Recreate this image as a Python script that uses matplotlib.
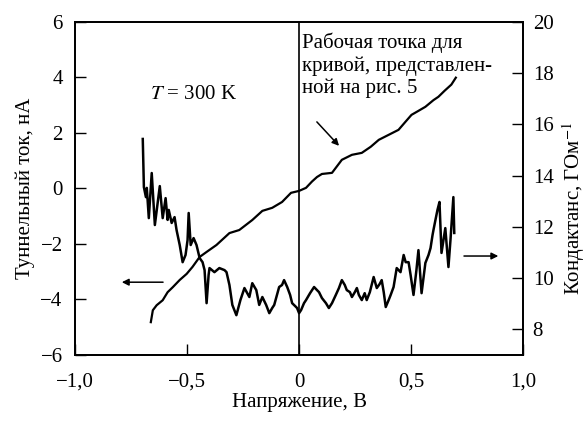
import numpy as np
import matplotlib
matplotlib.use('Agg')
import matplotlib.pyplot as plt
from matplotlib.ticker import FuncFormatter

plt.rcParams['font.family'] = ['Liberation Serif', 'DejaVu Serif']
plt.rcParams['mathtext.fontset'] = 'stix'
plt.rcParams['font.size'] = 15

# tunnel current (left axis), nA
v_i = [-0.662, -0.653, -0.636, -0.609, -0.587, -0.564, -0.533, -0.502, -0.476,
       -0.444, -0.413, -0.369, -0.311, -0.267, -0.209, -0.164, -0.120, -0.076,
       -0.036, 0.000, 0.031, 0.058, 0.080, 0.102, 0.147, 0.191, 0.236, 0.280,
       0.320, 0.356, 0.400, 0.444, 0.475, 0.502, 0.530, 0.564, 0.600, 0.622,
       0.650, 0.680, 0.700]
current = [-4.82, -4.39, -4.21, -4.03, -3.74, -3.56, -3.30, -3.08, -2.83,
           -2.47, -2.29, -2.04, -1.61, -1.50, -1.14, -0.81, -0.70, -0.49,
           -0.16, -0.09, 0.02, 0.25, 0.41, 0.52, 0.56, 1.03, 1.21, 1.28,
           1.50, 1.75, 1.93, 2.11, 2.40, 2.65, 2.78, 2.94, 3.18, 3.30,
           3.52, 3.74, 3.99]

# conductance (right axis), GOhm^-1
v_g = [-0.698, -0.693, -0.684, -0.680, -0.671, -0.658, -0.644, -0.622, -0.609, -0.596,
       -0.587, -0.582, -0.569, -0.556, -0.547, -0.533, -0.520, -0.507, -0.498, -0.493,
       -0.484, -0.471, -0.458, -0.444, -0.431, -0.422, -0.413, -0.404, -0.400, -0.378,
       -0.356, -0.333, -0.324, -0.311, -0.298, -0.280, -0.262, -0.244, -0.222, -0.209,
       -0.191, -0.178, -0.164, -0.147, -0.133, -0.120, -0.111, -0.089, -0.076, -0.067,
       -0.053, -0.040, -0.031, -0.018, -0.009, 0.000, 0.009, 0.022, 0.031, 0.049,
       0.067, 0.080, 0.089, 0.102, 0.120, 0.133, 0.147, 0.164, 0.178, 0.191,
       0.204, 0.213, 0.227, 0.236, 0.249, 0.258, 0.267, 0.280, 0.293, 0.302,
       0.316, 0.333, 0.347, 0.360, 0.369, 0.378, 0.387, 0.400, 0.409, 0.422,
       0.436, 0.453, 0.467, 0.476, 0.489, 0.498, 0.511, 0.524, 0.533, 0.547,
       0.564, 0.578, 0.587, 0.596, 0.600, 0.609, 0.618, 0.627, 0.636, 0.653,
       0.667, 0.676, 0.689, 0.693]
conductance = [15.43, 13.55, 13.16, 13.52, 12.34, 14.10, 12.07, 13.59, 12.34, 13.12,
               12.27, 12.66, 12.15, 12.38, 11.87, 11.29, 10.62, 10.90, 11.48, 12.54,
               11.29, 11.56, 11.29, 10.78, 10.62, 10.31, 9.02, 10.12, 10.39, 10.23,
               10.39, 10.31, 10.23, 9.73, 8.95, 8.55, 9.14, 9.61, 9.26, 9.80,
               9.53, 8.95, 9.26, 8.95, 8.63, 8.83, 8.95, 9.65, 9.73, 9.92,
               9.65, 9.34, 9.02, 8.91, 8.83, 8.63, 8.75, 9.02, 9.14, 9.41,
               9.65, 9.53, 9.45, 9.22, 9.02, 8.83, 9.02, 9.34, 9.61, 9.92,
               9.73, 9.53, 9.45, 9.26, 9.45, 9.61, 9.34, 9.14, 9.41, 9.14,
               9.45, 10.04, 9.61, 9.77, 9.92, 9.45, 8.87, 9.14, 9.34, 9.65,
               10.39, 10.23, 10.90, 10.62, 10.62, 10.12, 9.34, 10.31, 11.09, 9.41,
               10.59, 10.90, 11.17, 11.68, 11.87, 12.27, 12.66, 12.97, 10.98, 11.95,
               10.43, 11.48, 13.16, 11.76]

x_ticks = [-1.0, -0.5, 0.0, 0.5, 1.0]
left_ticks = [-6, -4, -2, 0, 2, 4, 6]
right_ticks = [8, 10, 12, 14, 16, 18, 20]


def comma(x, pos):
    s = '{:.1f}'.format(x) if x != 0 else '0'
    return s.replace('-', '\u2212').replace('.', ',')


fig = plt.figure(figsize=(5.87, 4.21), dpi=100)
ax = fig.add_axes([0.128, 0.157, 0.763, 0.791])
ax2 = ax.twinx()

ax.plot(v_i, current, color='black', lw=1.6)
ax2.plot(v_g, conductance, color='black', lw=1.8)
ax.axvline(0, color='black', lw=1.2)

ax.set_xlim(-1, 1)
ax.set_ylim(-6, 6)
ax2.set_ylim(7, 20)
ax.set_xticks(x_ticks)
ax.set_yticks(left_ticks)
ax2.set_yticks(right_ticks)
ax.xaxis.set_major_formatter(FuncFormatter(comma))
ax.yaxis.set_major_formatter(FuncFormatter(lambda y, p: str(int(y)).replace('-', '\u2212')))

ax.tick_params(axis='x', direction='in', length=8, width=1, top=False, pad=13)
ax.tick_params(axis='y', direction='in', length=8, width=1, right=False, pad=9)
ax2.tick_params(direction='in', length=8, width=1, pad=7)
for a in (ax, ax2):
    for s in a.spines.values():
        s.set_linewidth(1.3)

ax.set_xlabel('Напряжение, В', labelpad=1)
ax.set_ylabel('Туннельный ток, нА', labelpad=4)
ax2.set_ylabel('Кондактанс, ГОм$^{-1}$')
ax2.yaxis.set_label_coords(1.083, 0.44)

ax.text(-0.667, 3.4, '$T$ = 300 K', va='center', ha='left')
ax.text(0.013, 5.6, 'Рабочая точка для\nкривой, представлен-\nной на рис. 5',
        va='top', ha='left', linespacing=1.2)

arrow = dict(arrowstyle='-|>', color='black', lw=1.1, mutation_scale=10)
ax.annotate('', xy=(0.187, 1.46), xytext=(0.071, 2.47), arrowprops=arrow)
ax.annotate('', xy=(-0.804, -3.38), xytext=(-0.595, -3.38), arrowprops=arrow)
ax2.annotate('', xy=(0.902, 10.86), xytext=(0.724, 10.86), arrowprops=arrow)

fig.savefig('out.png', dpi=100)
